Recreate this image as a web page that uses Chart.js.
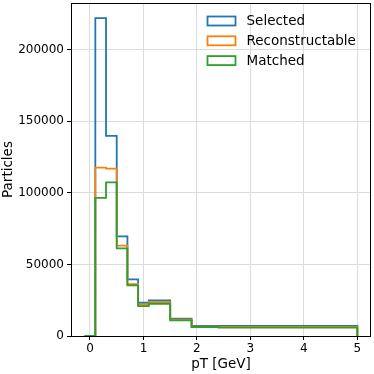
<!DOCTYPE html>
<html>
<head>
<meta charset="utf-8">
<script src="https://cdn.jsdelivr.net/npm/chart.js@4"></script>
<style>
  html, body { margin: 0; padding: 0; background: #fff; }
  #wrap { width: 374px; height: 374px; }
</style>
</head>
<body>
<div id="wrap"><canvas id="histChart" width="374" height="374"></canvas></div>
<script>
// bin edges in pT [GeV] and counts per bin (first bin is empty)
const binEdges = [-0.1, 0.1, 0.3, 0.5, 0.7, 0.9, 1.1, 1.5, 1.9, 2.4, 5.0];
const selected = [0, 222000, 139700, 69600, 39500, 23200, 24800, 12100, 7000, 7000];
const reconstructable = [0, 117600, 116900, 63100, 36200, 22000, 23700, 11500, 6600, 6300];
const matched = [0, 96500, 107200, 61200, 35300, 20900, 22500, 10900, 6300, 5900];
const seriesNames = ['Selected', 'Reconstructable', 'Matched'];
const seriesColors = ['#1f77b4', '#ff7f0e', '#2ca02c'];
const xTicks = [0, 1, 2, 3, 4, 5];
const yTicks = [0, 50000, 100000, 150000, 200000];

// step outline: one point per left edge, closing back to zero at the last edge
function stepPoints(counts) {
    const pts = counts.map((c, i) => ({ x: binEdges[i], y: c }));
    pts.push({ x: binEdges[binEdges.length - 1], y: 0 });
    return pts;
}

const FONT = "'DejaVu Sans', sans-serif";

// legend drawn inside the axes, top right, no frame
const innerLegend = {
    id: 'innerLegend',
    afterDatasetsDraw(chart) {
        const c = chart.ctx;
        c.save();
        c.font = '13.5px ' + FONT;
        c.textBaseline = 'middle';
        chart.data.datasets.forEach((ds, i) => {
            const y = 21 + i * 19.8;
            c.strokeStyle = ds.borderColor;
            c.lineWidth = 1.8;
            c.strokeRect(207.5, y - 4.5, 28, 9);
            c.fillStyle = '#000';
            c.fillText(ds.label, 246.5, y + 0.5);
        });
        c.restore();
    }
};

// black frame round the plotting area
const frame = {
    id: 'frame',
    afterDraw(chart) {
        const a = chart.chartArea;
        const c = chart.ctx;
        c.save();
        c.strokeStyle = '#000';
        c.lineWidth = 1;
        c.strokeRect(Math.round(a.left) + 0.5, Math.round(a.top) + 0.5,
                     Math.round(a.right - a.left) - 1, Math.round(a.bottom - a.top));
        c.restore();
    }
};

const datasets = [selected, reconstructable, matched].map((counts, i) => ({
    label: seriesNames[i],
    data: stepPoints(counts),
    borderColor: seriesColors[i],
    backgroundColor: 'rgba(0,0,0,0)',
    borderWidth: 1.8,
    stepped: 'before',
    pointRadius: 0,
    fill: false,
    order: 2 - i
}));

const ctx = document.getElementById('histChart').getContext('2d');
const histChart = new Chart(ctx, {
    type: 'line',
    data: { datasets: datasets },
    plugins: [innerLegend, frame],
    options: {
        responsive: false,
        animation: false,
        layout: { padding: { top: 3, right: 3, left: 0, bottom: 0 } },
        scales: {
            x: {
                type: 'linear',
                min: -0.355,
                max: 5.255,
                afterFit: (s) => { s.height = 38; s.paddingLeft = 0; s.paddingRight = 0; },
                afterBuildTicks: (s) => { s.ticks = xTicks.map(v => ({ value: v })); },
                ticks: {
                    color: '#000',
                    font: { family: FONT, size: 12 },
                    padding: 2,
                    maxRotation: 0,
                    includeBounds: false
                },
                grid: { color: '#dcdcdc', tickColor: '#000', tickLength: 4 },
                border: { display: false },
                title: {
                    display: true,
                    text: 'pT [GeV]',
                    color: '#000',
                    font: { family: FONT, size: 13.5 },
                    padding: { top: 0, bottom: 1 }
                }
            },
            y: {
                min: 0,
                max: 232500,
                afterFit: (s) => { s.width = 71; s.paddingTop = 0; s.paddingBottom = 0; },
                afterBuildTicks: (s) => { s.ticks = yTicks.map(v => ({ value: v })); },
                ticks: {
                    color: '#000',
                    font: { family: FONT, size: 12 },
                    padding: 3,
                    includeBounds: false,
                    callback: (v) => String(v)
                },
                grid: { color: '#dcdcdc', tickColor: '#000', tickLength: 4 },
                border: { display: false },
                title: {
                    display: true,
                    text: 'Particles',
                    color: '#000',
                    font: { family: FONT, size: 13.5 },
                    padding: { top: 0, bottom: 0 }
                }
            }
        },
        plugins: {
            legend: { display: false },
            tooltip: { enabled: false }
        }
    }
});
</script>
</body>
</html>
